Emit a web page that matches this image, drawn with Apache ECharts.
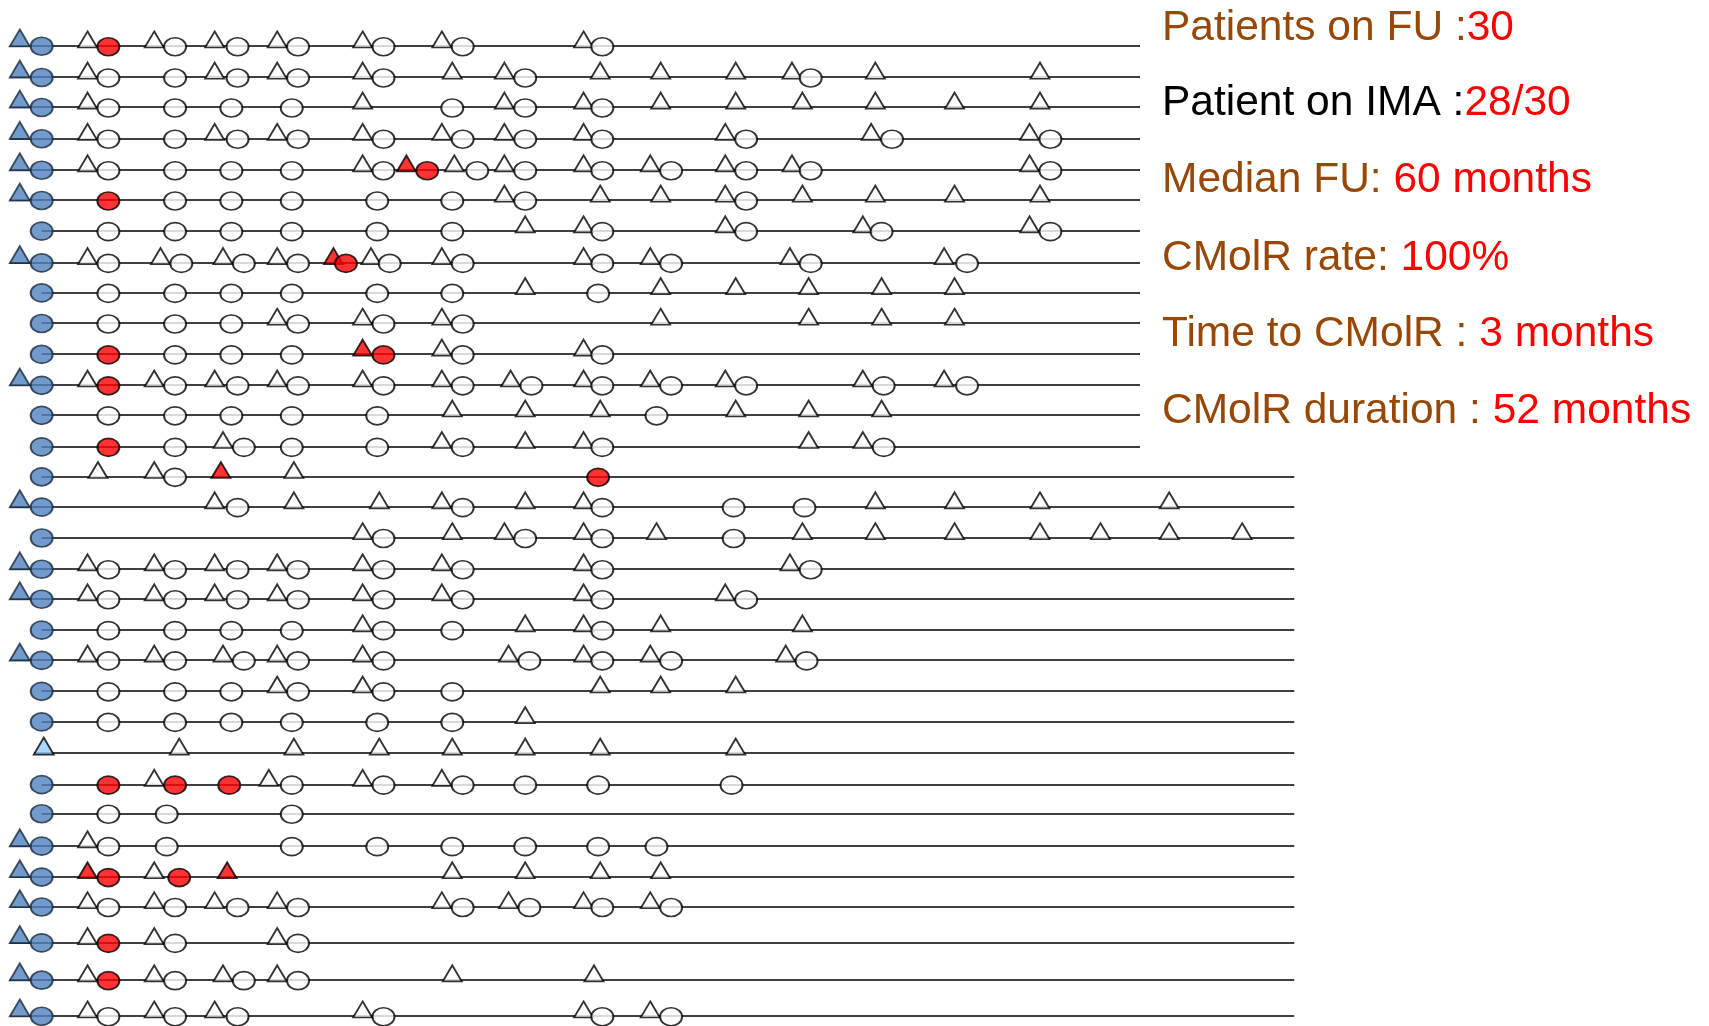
<!DOCTYPE html>
<html>
<head>
<meta charset="utf-8">
<script src="https://cdn.jsdelivr.net/npm/echarts@6/dist/echarts.min.js"></script>
<style>
html,body{margin:0;padding:0;background:#fff;}
#chart{width:1709px;height:1026px;}
</style>
</head>
<body>
<div id="chart"></div>
<script>
// Patient lanes (vertical position of each patient's timeline)
const rowPos = [1, 2.02, 3, 4.02, 5.05, 6.04, 7.04, 8.08, 9.06, 10.06, 11.07, 12.08, 13.06, 14.09,
  15.07, 16.06, 17.07, 18.09, 19.07, 20.08, 21.07, 22.08, 23.08, 24.11, 25.13, 26.08, 27.14,
  28.15, 29.13, 30.3, 31.52, 32.7];
// Follow-up end (months)
const fuEnd = [52.7,52.7,52.7,52.7,52.7,52.7,52.7,52.7,52.7,52.7,52.7,52.7,52.7,52.7,
  60.1,60.1,60.1,60.1,60.1,60.1,60.1,60.1,60.1,60.1,60.1,60.1,60.1,60.1,60.1,60.1,60.1,60.1];
// Baseline markers: 1 = blue triangle at baseline
const baselineTri = [1,1,1,1,1,1,0,1,0,0,0,1,0,0,0,1,0,1,1,0,1,0,0,0,0,0,1,1,1,1,1,1];
// Baseline circle: 1 = blue circle, 0 = none (light blue triangle instead)
const baselineCircle = [1,1,1,1,1,1,1,1,1,1,1,1,1,1,1,1,1,1,1,1,1,1,1,0,1,1,1,1,1,1,1,1];
const lightTriRow = 23;   // index of the patient with the light-blue baseline triangle
const lightTriX = 0.1;
const blueTriX = -1.05;

// Molecular assessments (circles), months
const whiteCircles = [
  [6.4, 9.4, 12.3, 16.4, 20.2, 26.9],
  [3.2, 6.4, 9.4, 12.3, 16.4, 23.2, 36.9],
  [3.2, 6.4, 9.1, 12.0, 19.7, 23.2, 26.9],
  [3.2, 6.4, 9.4, 12.3, 16.4, 20.2, 23.2, 26.9, 33.8, 40.8, 48.4],
  [3.2, 6.4, 9.1, 12.0, 16.4, 20.9, 23.2, 26.9, 30.2, 33.8, 36.9, 48.4],
  [6.4, 9.1, 12.0, 16.1, 19.7, 23.2, 33.8],
  [3.2, 6.4, 9.1, 12.0, 16.1, 19.7, 26.9, 33.8, 40.3, 48.4],
  [3.2, 6.7, 9.7, 12.3, 16.7, 20.2, 26.9, 30.2, 36.9, 44.4],
  [3.2, 6.4, 9.1, 12.0, 16.1, 19.7, 26.7],
  [3.2, 6.4, 9.1, 12.3, 16.4, 20.2],
  [6.4, 9.1, 12.0, 20.2, 26.9],
  [6.4, 9.4, 12.3, 16.4, 20.2, 23.5, 26.9, 30.2, 33.8, 40.4, 44.4],
  [3.2, 6.4, 9.1, 12.0, 16.1, 29.5],
  [6.4, 9.7, 12.0, 16.1, 20.2, 26.9, 40.4],
  [6.4],
  [9.4, 20.2, 26.9, 33.2, 36.6],
  [16.4, 23.2, 26.9, 33.2],
  [3.2, 6.4, 9.4, 12.3, 16.4, 20.2, 26.9, 36.9],
  [3.2, 6.4, 9.4, 12.3, 16.4, 20.2, 26.9, 33.8],
  [3.2, 6.4, 9.1, 12.0, 16.4, 19.7, 26.9],
  [3.2, 6.4, 9.7, 12.3, 16.4, 23.4, 26.9, 30.2, 36.7],
  [3.2, 6.4, 9.1, 12.3, 16.4, 19.7],
  [3.2, 6.4, 9.1, 12.0, 16.1, 19.7],
  [],
  [12.0, 16.4, 20.2, 23.2, 26.7, 33.1],
  [3.2, 6.0, 12.0],
  [3.2, 6.0, 12.0, 16.1, 19.7, 23.2, 26.7, 29.5],
  [],
  [3.2, 6.4, 9.4, 12.3, 20.2, 23.4, 26.9, 30.2],
  [6.4, 12.3],
  [6.4, 9.7, 12.3],
  [3.2, 6.4, 9.4, 16.4, 26.9, 30.2]
];
const redCircles = [
  [3.2], [], [], [], [18.5], [3.2], [], [14.6], [], [], [3.2, 16.4], [3.2], [], [3.2],
  [26.7], [], [], [], [], [], [], [], [], [], [3.2, 6.4, 9.0], [], [], [3.2, 6.6], [],
  [3.2], [3.2], []
];
// Cytogenetic / other assessments (triangles), months
const whiteTriangles = [
  [2.2, 5.4, 8.3, 11.3, 15.4, 19.2, 26.0],
  [2.2, 8.3, 11.3, 15.4, 19.7, 22.2, 26.8, 29.7, 33.3, 36.0, 40.0, 47.9],
  [2.2, 15.4, 22.2, 26.0, 29.7, 33.3, 36.5, 40.0, 43.8, 47.9],
  [2.2, 8.3, 11.3, 15.4, 19.2, 22.2, 26.0, 32.8, 39.8, 47.4],
  [2.2, 15.4, 19.8, 22.2, 26.0, 29.2, 32.8, 36.0, 47.4],
  [22.2, 26.8, 29.7, 32.8, 36.5, 40.0, 43.8, 47.9],
  [23.2, 26.0, 32.8, 39.4, 47.4],
  [2.2, 5.7, 8.7, 11.3, 15.8, 19.2, 26.0, 29.2, 35.9, 43.3],
  [23.2, 29.7, 33.3, 36.8, 40.3, 43.8],
  [11.3, 15.4, 19.2, 29.7, 36.8, 40.3, 43.8],
  [19.2, 26.0],
  [2.2, 5.4, 8.3, 11.3, 15.4, 19.2, 22.5, 26.0, 29.2, 32.8, 39.4, 43.3],
  [19.7, 23.2, 26.8, 33.3, 36.8, 40.3],
  [8.7, 19.2, 23.2, 26.0, 36.8, 39.4],
  [2.7, 5.4, 12.1],
  [8.3, 12.1, 16.2, 19.2, 23.2, 26.0, 40.0, 43.8, 47.9, 54.1],
  [15.4, 19.7, 22.2, 26.0, 29.5, 36.5, 40.0, 43.8, 47.9, 50.8, 54.1, 57.6],
  [2.2, 5.4, 8.3, 11.3, 15.4, 19.2, 26.0, 35.9],
  [2.2, 5.4, 8.3, 11.3, 15.4, 19.2, 26.0, 32.8],
  [15.4, 23.2, 26.0, 29.7, 36.5],
  [2.2, 5.4, 8.7, 11.3, 15.4, 22.4, 26.0, 29.2, 35.7],
  [11.3, 15.4, 26.8, 29.7, 33.3],
  [23.2],
  [6.6, 12.1, 16.2, 19.7, 23.2, 26.8, 33.3],
  [5.4, 10.9, 15.4, 19.2],
  [],
  [2.2],
  [5.4, 19.7, 23.2, 26.8, 29.7],
  [2.2, 5.4, 8.3, 11.3, 19.2, 22.4, 26.0, 29.2],
  [2.2, 5.4, 11.3],
  [2.2, 5.4, 8.7, 11.3, 19.7, 26.5],
  [2.2, 5.4, 8.3, 15.4, 26.0, 29.2]
];
const redTriangles = [
  [], [], [], [], [17.5], [], [], [14.0], [], [], [15.4], [], [], [],
  [8.6], [], [], [], [], [], [], [], [], [], [], [], [], [2.2, 8.9], [], [], [], []
];

// Summary text
const statLabels = ['Patients on FU :', 'Patient on IMA :', 'Median FU: ', 'CMolR rate: ', 'Time to CMolR : ', 'CMolR duration : '];
const statValues = ['30', '28/30', '60 months', '100%', '3 months', '52 months'];
const statLabelColors = ['#974806', '#000000', '#974806', '#974806', '#974806', '#974806'];

// ---------- build ----------
function pts(list) {
  const out = [];
  list.forEach((row, i) => row.forEach(x => out.push([x, rowPos[i]])));
  return out;
}
const lineData = rowPos.map((y, i) => {
  let start = 0;
  if (baselineTri[i]) start = blueTriX - 0.48;
  else if (i === lightTriRow) start = lightTriX - 0.45;
  return { coords: [[start, y], [fuEnd[i], y]] };
});
const blueTriData = rowPos.filter((y, i) => baselineTri[i]).map(y => [blueTriX, y]);
const blueCircleData = rowPos.filter((y, i) => baselineCircle[i]).map(y => [0, y]);
const lightTriData = [[lightTriX, rowPos[lightTriRow]]];

const triSize = [19, 16], triOff = [0, -6.5];
const cirSize = [22, 18], cirOff = [0, 0.8];
const stroke = { borderColor: '#000', borderWidth: 1.8 };
const FONT = '42.5px "Liberation Sans", Arial, sans-serif';

const chart = echarts.init(document.getElementById('chart'), null, { renderer: 'canvas' });
const ys = [28, 103, 180.5, 258, 334, 411];
chart.setOption({
  animation: false,
  backgroundColor: '#ffffff',
  grid: { left: 0, right: 0, top: 0, bottom: 0 },
  xAxis: { type: 'value', min: -2, max: 80, show: false },
  yAxis: { type: 'value', min: -0.503, max: 33.027, inverse: true, show: false },
  series: [
    { type: 'lines', coordinateSystem: 'cartesian2d', silent: true, z: 1,
      lineStyle: { color: '#000', width: 1.7, opacity: 1 }, data: lineData },
    { type: 'scatter', symbol: 'triangle', symbolSize: triSize, symbolOffset: triOff, z: 2,
      itemStyle: Object.assign({ color: '#ffffff' }, stroke), data: pts(whiteTriangles) },
    { type: 'scatter', symbol: 'triangle', symbolSize: triSize, symbolOffset: triOff, z: 2,
      itemStyle: Object.assign({ color: '#ff0000' }, stroke), data: pts(redTriangles) },
    { type: 'scatter', symbol: 'triangle', symbolSize: [20, 17], symbolOffset: [0, -8], z: 2,
      itemStyle: { color: '#4F81BD', borderColor: '#1c2b3c', borderWidth: 1.8 }, data: blueTriData },
    { type: 'scatter', symbol: 'triangle', symbolSize: [20, 17], symbolOffset: [0, -7], z: 2,
      itemStyle: { color: '#99CCFF', borderColor: '#000', borderWidth: 1.8 }, data: lightTriData },
    { type: 'scatter', symbol: 'circle', symbolSize: cirSize, symbolOffset: cirOff, z: 3,
      itemStyle: Object.assign({ color: '#ffffff' }, stroke), data: pts(whiteCircles) },
    { type: 'scatter', symbol: 'circle', symbolSize: cirSize, symbolOffset: cirOff, z: 3,
      itemStyle: Object.assign({ color: '#ff0000' }, stroke), data: pts(redCircles) },
    { type: 'scatter', symbol: 'circle', symbolSize: cirSize, symbolOffset: [0, 0.3], z: 3,
      itemStyle: { color: '#4F81BD', borderColor: '#1c2b3c', borderWidth: 1.8 }, data: blueCircleData }
  ],
  graphic: statLabels.map((lab, i) => ({
    type: 'text', x: 1162, y: ys[i], silent: true,
    style: {
      text: '{a|' + lab + '}{b|' + statValues[i] + '}',
      verticalAlign: 'middle', align: 'left',
      font: FONT,
      rich: {
        a: { fill: statLabelColors[i], font: FONT },
        b: { fill: '#ff0000', font: FONT }
      }
    }
  }))
});
</script>
</body>
</html>
